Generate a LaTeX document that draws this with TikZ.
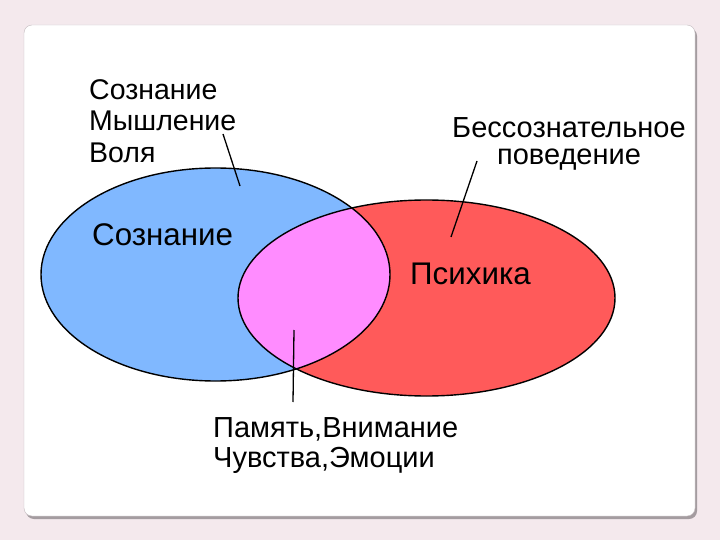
\documentclass[tikz,border=0pt]{standalone}
\usepackage{fontspec}
\setmainfont{Liberation Sans}
\usetikzlibrary{positioning}
\definecolor{pagebg}{HTML}{F4E9ED}
\definecolor{cardedge}{HTML}{C4BCC0}
\definecolor{cardshade}{HTML}{A49CA0}
\definecolor{mindblue}{HTML}{80B8FF}
\definecolor{psyred}{HTML}{FF5A5A}
\definecolor{bothpink}{HTML}{FF8CFF}

\begin{document}
\begin{tikzpicture}[x=1pt,y=-1pt,
    every node/.style={inner sep=0pt,text=black},
    tag/.style={font=\fontsize{28.5}{31.5}\selectfont},
    inside/.style={font=\fontsize{31.3}{36}\selectfont},
    region/.style={draw=black,line width=1.4pt},
    leader/.style={draw=black,line width=1.3pt}]
    \useasboundingbox (0,0) rectangle (720,540);
    % page and card
    \fill[pagebg] (0,0) rectangle (720,540);
    \fill[cardshade,rounded corners=8] (26,28) rectangle (697,519);
    \filldraw[fill=white,draw=cardedge,rounded corners=8] (24,25) rectangle (695,516);

    % the two sets
    \fill[mindblue] (215.5,274.5) ellipse [x radius=174.5,y radius=106.5];
    \fill[psyred] (426.5,298) ellipse [x radius=188.5,y radius=98];
    \begin{scope}
        \clip (215.5,274.5) ellipse [x radius=174.5,y radius=106.5];
        \fill[bothpink] (426.5,298) ellipse [x radius=188.5,y radius=98];
    \end{scope}
    \draw[region] (215.5,274.5) ellipse [x radius=174.5,y radius=106.5];
    \draw[region] (426.5,298) ellipse [x radius=188.5,y radius=98];

    % labels
    \node[tag,align=left,anchor=north west] (conscious) at (89,79) {Сознание\\Мышление\\Воля};
    \node[tag,align=center,anchor=north,font=\fontsize{29}{27}\selectfont] (unconscious) at (569,117) {Бессознательное\\поведение};
    \node[inside,anchor=base west] (consset) at (92,245) {Сознание};
    \node[inside,anchor=base west] (psyset) at (410,284) {Психика};
    \node[tag,align=left,anchor=north west,font=\fontsize{29}{30}\selectfont] (shared) at (213,417) {Память,Внимание\\Чувства,Эмоции};

    % leaders
    \coordinate (c1) at (223,134);
    \coordinate (c2) at (240,186);
    \coordinate (u1) at (477,161);
    \coordinate (u2) at (451,237);
    \coordinate (s1) at (294,330);
    \coordinate (s2) at (293,402);
    \foreach \a/\b in {c1/c2,u1/u2,s1/s2}
        \draw[leader] (\a) -- (\b);
\end{tikzpicture}
\end{document}
